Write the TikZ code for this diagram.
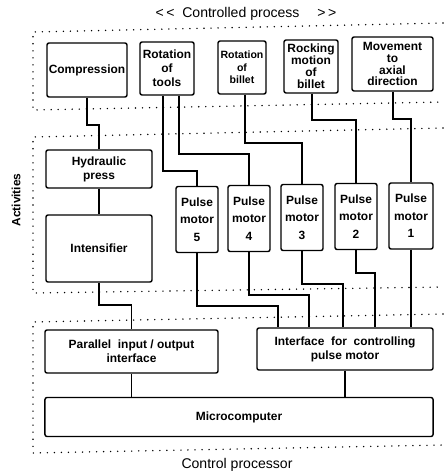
\documentclass[tikz,border=0pt]{standalone}
\usepackage{fontspec}
\setmainfont{Liberation Sans}

\begin{document}
\begin{tikzpicture}[x=0.025cm, y=-0.025cm]
        % Define styles for shapes
        \tikzstyle{box} = [draw, line width=1pt, rounded corners=1.5pt, align=center, inner sep=1pt, font=\bfseries\fontsize{8.5}{10}\selectfont]
        \tikzstyle{motor} = [box, minimum width=1.05cm, minimum height=1.65cm, font=\bfseries\fontsize{8.5}{12.5}\selectfont]
        \tikzstyle{wire} = [line width=1pt]
        \tikzstyle{dotframe} = [line width=1.1pt, line cap=round, dash pattern=on 0pt off 5pt]
        \tikzstyle{caption} = [font=\fontsize{10}{12}\selectfont]
        \useasboundingbox (0,0) rectangle (443,473);

        % Draw regions
        \draw[dotframe] (443,23) -- (33,32) -- (33,110) -- (443,102);
        \draw[dotframe] (443,128) -- (33,137) -- (33,293) -- (443,287);
        \draw[dotframe] (443,314) -- (33,322) -- (33,453) -- (443,445);
        \node[caption] (title) at (246,14) {{<}\,{<}\ \ Controlled process \quad{>}\,{>}};
        \node[caption] (ctrl) at (237,465) {Control processor};
        \node[font=\bfseries\fontsize{8.5}{10}\selectfont, rotate=90] (act) at (16,200) {Activities};

        % Draw shapes
        \node[box, minimum width=2cm, minimum height=1.35cm] (comp) at (87,70) {Compression};
        \node[box, minimum width=1.35cm, minimum height=1.325cm] (rottool) at (167,68.5) {Rotation\\of\\tools};
        \node[box, minimum width=1.2cm, minimum height=1.325cm, font=\bfseries\fontsize{7.5}{9}\selectfont] (rotbil) at (242,67.5) {Rotation\\of\\billet};
        \node[box, minimum width=1.35cm, minimum height=1.325cm, font=\bfseries\fontsize{8.5}{8.5}\selectfont] (rock) at (311,66.5) {Rocking\\motion\\of\\billet};
        \node[box, minimum width=2.025cm, minimum height=1.35cm, font=\bfseries\fontsize{8.5}{8.5}\selectfont] (move) at (392.5,64) {Movement\\to\\axial\\direction};

        \node[box, minimum width=2.65cm, minimum height=0.95cm] (hyd) at (99,169) {Hydraulic\\press};
        \node[box, minimum width=2.65cm, minimum height=1.675cm] (int) at (99,248.5) {Intensifier};
        \node[motor] (pm5) at (197,219.5) {Pulse\\motor\\5};
        \node[motor] (pm4) at (249,218.5) {Pulse\\motor\\4};
        \node[motor] (pm3) at (302,217.5) {Pulse\\motor\\3};
        \node[motor] (pm2) at (356,216.5) {Pulse\\motor\\2};
        \node[motor, minimum width=1.1cm] (pm1) at (411,216) {Pulse\\motor\\1};

        \node[box, minimum width=4.325cm, minimum height=1.075cm] (pio) at (131.5,351.5) {Parallel\ \ input / output\\interface};
        \node[box, minimum width=4.4cm, minimum height=1.05cm] (ifc) at (345,349) {Interface\ \ for\ \ controlling\\pulse motor};
        \node[box, minimum width=9.7cm, minimum height=0.975cm] (micro) at (239,417) {Microcomputer};

        % Draw lines
        \draw[wire] (comp.south) -- (87,125) -| (hyd.north);
        \draw[wire] (rottool.south -| 163,0) -- (163,171) -| (pm5.north);
        \draw[wire] (rottool.south -| 179,0) -- (179,154) -| (pm4.north);
        \draw[wire] (rotbil.south -| 245,0) -- (245,143) -| (pm3.north);
        \draw[wire] (rock.south -| 312,0) -- (312,120) -| (pm2.north);
        \draw[wire] (move.south -| 393,0) -- (393,119) -| (pm1.north);
        \draw[wire] (hyd.south) -- (int.north);
        \draw[wire] (int.south) -- (99,305) -| (pio.north);
        \draw[wire] (pm5.south) -- (197,306) -| (ifc.north -| 278,0);
        \draw[wire] (pm4.south) -- (249,295) -| (ifc.north -| 309,0);
        \draw[wire] (pm3.south) -- (302,284) -| (ifc.north -| 343,0);
        \draw[wire] (pm2.south) -- (356,273) -| (ifc.north -| 375,0);
        \draw[wire] (pm1.south) -- (ifc.north -| pm1.south);
        \draw[wire] (pio.south) -- (micro.north -| pio.south);
        \draw[wire] (ifc.south) -- (micro.north -| ifc.south);
\end{tikzpicture}
\end{document}
